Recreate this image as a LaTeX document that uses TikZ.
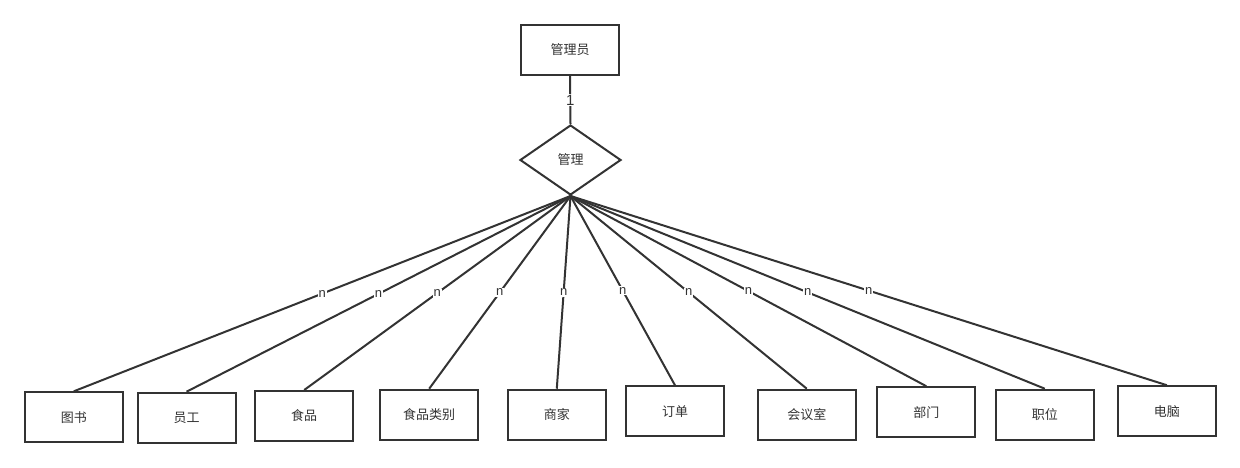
\documentclass[tikz,border=0pt]{standalone}
\usepackage{fontspec}
\setmainfont{Liberation Sans}
\newfontfamily\cjk{Noto Sans CJK SC}
\usetikzlibrary{shapes.geometric}
\definecolor{ln}{HTML}{333333}
\begin{document}
\begin{tikzpicture}[x=1pt,y=-1pt,
  ent/.style={draw=ln,line width=2pt,fill=white,minimum width=98pt,minimum height=50pt,inner sep=0pt,font=\cjk\fontsize{13}{15}\selectfont,text=ln},
  rel/.style={draw=ln,line width=2pt,fill=white,shape=diamond,minimum width=101pt,minimum height=70pt,inner sep=0pt,font=\cjk\fontsize{13}{15}\selectfont,text=ln},
  conn/.style={draw=ln,line width=2pt},
  card/.style={fill=white,inner sep=1pt,font=\fontsize{13}{15}\selectfont,text=ln}]
\useasboundingbox (0,0) rectangle (1240,467);
\node[ent] (admin) at (570,50) {管理员};
\node[rel] (mg) at (570.5,160) {管理};
\draw[conn] (admin.south) -- node[card,font=\fontsize{15}{17}\selectfont] {1} (mg.north);
\node[ent] (b1) at (73.8,417.3) {图书};
\node[ent] (b2) at (186.5,417.7) {员工};
\node[ent] (b3) at (304.2,416) {食品};
\node[ent] (b4) at (429.2,414.7) {食品类别};
\node[ent] (b5) at (556.8,414.7) {商家};
\node[ent] (b6) at (675,411.3) {订单};
\node[ent] (b7) at (806.8,414.7) {会议室};
\node[ent] (b8) at (926.3,412.2) {部门};
\node[ent] (b9) at (1044.8,414.7) {职位};
\node[ent] (b10) at (1166.8,411.2) {电脑};
\foreach \b in {b1,b2,b3,b4,b5,b6,b7,b8,b9,b10}{
  \draw[conn] (mg.south) -- node[card,pos=0.5] {n} (\b.north);
}
\end{tikzpicture}
\end{document}
